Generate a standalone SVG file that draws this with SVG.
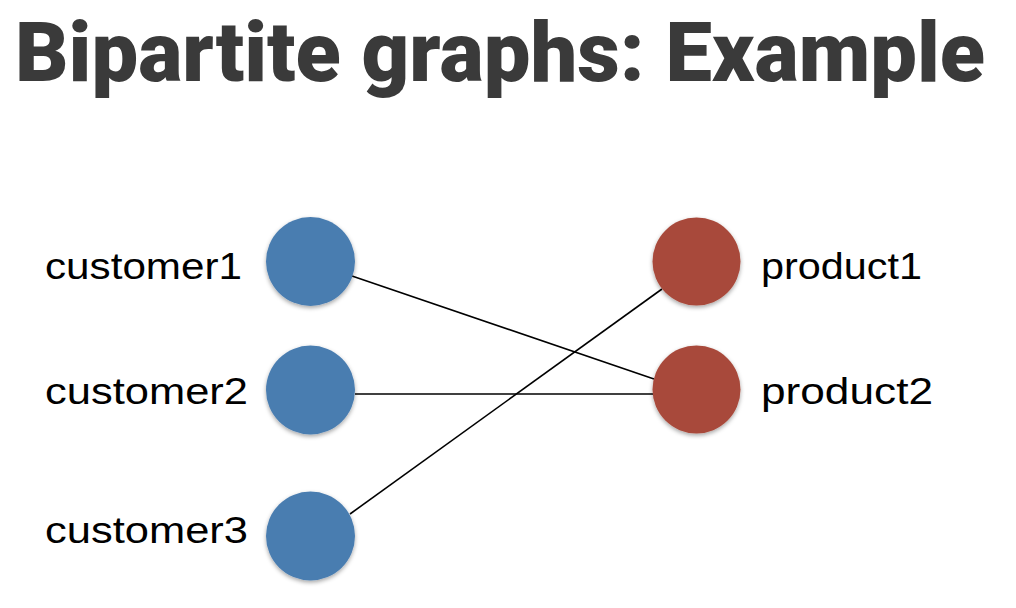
<svg xmlns="http://www.w3.org/2000/svg" width="1016" height="608" viewBox="0 0 1016 608">
<defs>
<filter id="sh" x="-20%" y="-20%" width="140%" height="150%">
<feDropShadow dx="0" dy="2" stdDeviation="2" flood-color="#000" flood-opacity="0.35"/>
</filter>
<style>
.title{font-family:Roboto,"Liberation Sans",sans-serif;font-weight:900;font-size:84px;fill:#3a3a3a}
.lbl{font-family:"Liberation Sans",Arial,sans-serif;font-size:37px;fill:#000}
.cust{fill:#4a7db0;filter:url(#sh)}
.prod{fill:#a84a3b;filter:url(#sh)}
.edge{stroke:#000;stroke-width:1.6;fill:none}
</style>
</defs>
<rect width="1016" height="608" fill="#fff"/>
<g id="title">
<text class="title" x="15" y="81" textLength="970" lengthAdjust="spacingAndGlyphs">Bipartite graphs: Example</text>
</g>
<g id="connectors">
<line class="edge" x1="352" y1="276" x2="654" y2="379"/>
<line class="edge" x1="355" y1="394" x2="653" y2="394"/>
<line class="edge" x1="350" y1="514" x2="662" y2="289"/>
</g>
<g id="customer1">
<circle class="cust" cx="310.5" cy="261.5" r="44.5"/>
<text class="lbl" x="45" y="279" textLength="197" lengthAdjust="spacingAndGlyphs">customer1</text>
</g>
<g id="customer2">
<circle class="cust" cx="310.5" cy="390" r="44.5"/>
<text class="lbl" x="45" y="404" textLength="203" lengthAdjust="spacingAndGlyphs">customer2</text>
</g>
<g id="customer3">
<circle class="cust" cx="310.5" cy="536" r="44.5"/>
<text class="lbl" x="45" y="543" textLength="203" lengthAdjust="spacingAndGlyphs">customer3</text>
</g>
<g id="product1">
<circle class="prod" cx="696.5" cy="261.5" r="44"/>
<text class="lbl" x="761" y="279" textLength="161" lengthAdjust="spacingAndGlyphs">product1</text>
</g>
<g id="product2">
<circle class="prod" cx="696.5" cy="389.5" r="44"/>
<text class="lbl" x="761" y="404" textLength="172" lengthAdjust="spacingAndGlyphs">product2</text>
</g>
</svg>
